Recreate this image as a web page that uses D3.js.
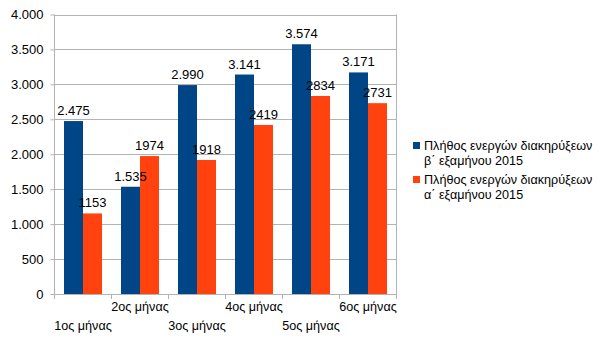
<!DOCTYPE html>
<html><head><meta charset="utf-8">
<script src="https://cdn.jsdelivr.net/npm/d3@7"></script>
<style>body{margin:0;background:#fff}svg{display:block}text{font-family:"Liberation Sans",Arial,sans-serif;fill:#000}</style>
</head><body>
<svg id="c" width="605" height="340"></svg>
<script>
const categories = ["1ος μήνας","2ος μήνας","3ος μήνας","4ος μήνας","5ος μήνας","6ος μήνας"];
const seriesB = [2475,1535,2990,3141,3574,3171];
const seriesA = [1153,1974,1918,2419,2834,2731];
const seriesNames = ["Πλήθος ενεργών διακηρύξεων|β΄ εξαμήνου 2015","Πλήθος ενεργών διακηρύξεων|α΄ εξαμήνου 2015"];
const yTicks = [0,500,1000,1500,2000,2500,3000,3500,4000];
const colors = ["#004586","#ff420e"];

const svg = d3.select("#c");
const L=54.5, R=396.5, T=14.5, B=294;
const x = d3.scaleBand().domain(categories).range([L,R]).paddingInner(0).paddingOuter(0);
const y = d3.scaleLinear().domain([0,4000]).range([B,T]);
const fmtB = v => d3.format(",")(v).replace(/,/g,".");
const fmtA = v => String(v);

// gridlines
svg.append("g").selectAll("line").data(yTicks).join("line")
  .attr("x1",L).attr("x2",R).attr("y1",d=>Math.round(y(d))+0.5).attr("y2",d=>Math.round(y(d))+0.5)
  .attr("stroke","#b3b3b3").attr("stroke-width",1);
// right border
svg.append("line").attr("x1",R).attr("x2",R).attr("y1",T).attr("y2",B+5).attr("stroke","#b3b3b3");

// bars
const bw = x.bandwidth()/3;
const series = [seriesB, seriesA];
const fmts = [fmtB, fmtA];
const barG = svg.append("g"), labG = svg.append("g");
series.forEach((s,i)=>{
  barG.append("g").selectAll("rect").data(s).join("rect")
    .attr("x",(d,j)=>x(categories[j])+bw/2+i*bw)
    .attr("y",d=>y(d)).attr("width",bw).attr("height",d=>B-y(d))
    .attr("fill",colors[i]);
  labG.append("g").selectAll("text").data(s).join("text")
    .attr("x",(d,j)=>x(categories[j])+bw/2+i*bw+bw/2)
    .attr("y",d=>y(d)-6).attr("text-anchor","middle").attr("font-size","13px")
    .text(d=>fmts[i](d));
});

// y axis
const ya = svg.append("g").attr("transform",`translate(${L},0)`)
  .call(d3.axisLeft(y).tickValues(yTicks).tickSize(4).tickFormat(fmtB));
ya.select(".domain").attr("stroke","#b3b3b3").attr("d",`M-0,${B+5}V${T}`);
ya.selectAll(".tick line").attr("stroke","#b3b3b3");
ya.selectAll(".tick text").attr("font-size","13px").attr("font-family","Liberation Sans, Arial, sans-serif").attr("fill","#000").attr("x",-11).attr("dy","0.34em");

// x axis
const xa = svg.append("g").attr("transform",`translate(0,${B})`);
xa.append("line").attr("x1",L).attr("x2",R).attr("y1",0.5).attr("y2",0.5).attr("stroke","#b3b3b3");
xa.selectAll("line.t").data(d3.range(categories.length+1)).join("line").attr("class","t")
  .attr("x1",i=>L+i*x.bandwidth()).attr("x2",i=>L+i*x.bandwidth()).attr("y1",0).attr("y2",5).attr("stroke","#b3b3b3");
xa.selectAll("text").data(categories).join("text")
  .attr("x",d=>x(d)+x.bandwidth()/2).attr("y",(d,i)=> i%2===0 ? 36 : 17)
  .attr("text-anchor","middle").attr("font-size","12.6px").text(d=>d);

// legend
const lg = svg.append("g");
seriesNames.forEach((n,i)=>{
  const y0 = 150 + i*34;
  lg.append("rect").attr("x",413).attr("y",y0-8).attr("width",7).attr("height",7).attr("fill",colors[i]);
  n.split("|").forEach((t,k)=>{
    lg.append("text").attr("x",424).attr("y",y0+k*15).attr("font-size","12.6px").text(t);
  });
});
</script>
</body></html>
